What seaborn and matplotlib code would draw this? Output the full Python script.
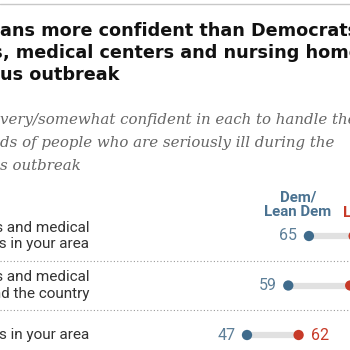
import matplotlib
matplotlib.use("Agg")
import matplotlib.pyplot as plt
import seaborn as sns
import pandas as pd

# data
rows = ["Hospitals and medical\ncenters in your area",
        "Hospitals and medical\ncenters around the country",
        "Nursing homes in your area"]
dem = [65, 59, 47]
rep = [78, 77, 62]

# title / subtitle lines: (hidden part, visible part) - chart is cropped on both sides
title_lines = [("Republic", "ans more confident than Democrats"),
               ("in hospitals", ", medical centers and nursing homes"),
               ("during coronavir", "us outbreak")]
sub_lines = [("% who are ", "very/somewhat confident in each to handle the"),
             ("nee", "ds of people who are seriously ill during the"),
             ("coronaviru", "s outbreak")]

DEM_C = "#3f6b8c"
REP_C = "#c73a28"
W = H = 350

df = pd.DataFrame({"row": rows, "pos": range(len(rows)), "dem": dem, "rep": rep})

sns.set_style("white")
fig = plt.figure(figsize=(3.5, 3.5), dpi=100)
ax = fig.add_axes([0, 0, 1, 1])
# value scale ~3.44 px per point, rows ~49.5 px apart
ax.set_xlim(47 - 247 / 3.44, 47 + 103 / 3.44)
ax.set_ylim((H - 236) / 49.5, -236 / 49.5)
ax.axis("off")

ax.hlines(df["pos"], df["dem"], df["rep"], color="#e1e1e1", lw=4.5, zorder=1)
sns.scatterplot(data=df, x="dem", y="pos", color=DEM_C, s=55, edgecolor="none", ax=ax, zorder=3, clip_on=False)
sns.scatterplot(data=df, x="rep", y="pos", color=REP_C, s=55, edgecolor="none", ax=ax, zorder=3, clip_on=False)

for i in range(len(rows)):
    ax.annotate(str(dem[i]), (dem[i], i), xytext=(-8.5, 0), textcoords="offset points",
                ha="right", va="center", color="#5d7f98", fontsize=11.5, family="Roboto")
    ax.annotate(str(rep[i]), (rep[i], i), xytext=(9, 0), textcoords="offset points",
                ha="left", va="center", color=REP_C, fontsize=11.5, family="Roboto")
    ax.text(-24.8 + 89 / 3.44, i, rows[i], ha="right", va="center", color="#333333",
            fontsize=11, family="Roboto", linespacing=1.2)
    if i < len(rows) - 1:
        ax.axhline(i + 0.5, color="#9a9a9a", lw=0.8, ls=(0, (1, 2)))

# column headers
fig.text(298 / W, 1 - 205 / H, "Dem/\nLean Dem", ha="center", va="center", color="#4a7291",
         fontsize=10.8, fontweight="bold", family="Roboto", linespacing=1.05)
fig.text(343 / W, 1 - 213 / H, "Lean Rep", ha="left", va="center", color=REP_C,
         fontsize=10.8, fontweight="bold", family="Roboto")
fig.text(365 / W, 1 - 198 / H, "Rep/", ha="left", va="center", color=REP_C,
         fontsize=10.8, fontweight="bold", family="Roboto")

# top rule
fig.add_artist(plt.Line2D([0, 1], [1 - 3.5 / H, 1 - 3.5 / H], color="#c8c8c8", lw=1))

# title
for k, (hid, vis) in enumerate(title_lines):
    y = 1 - (36.5 + 22 * k) / H
    x0 = [0, 3, 0][k] / W
    fig.text(x0, y, hid, ha="right", va="baseline", fontsize=12.7, fontweight="bold",
             family="DejaVu Sans", color="#111111")
    fig.text(x0, y, vis, ha="left", va="baseline", fontsize=12.7, fontweight="bold",
             family="DejaVu Sans", color="#111111")

# subtitle
for k, (hid, vis) in enumerate(sub_lines):
    y = 1 - (124 + 23 * k) / H
    fig.text(0, y, hid, ha="right", va="baseline", fontsize=10.8, style="italic",
             family="DejaVu Serif", color="#666666")
    fig.text(0, y, vis, ha="left", va="baseline", fontsize=10.8, style="italic",
             family="DejaVu Serif", color="#666666")

fig.savefig("out.png", dpi=100)
